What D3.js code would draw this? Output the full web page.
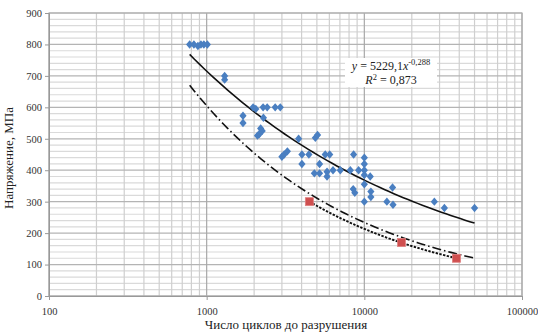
<!DOCTYPE html>
<html>
<head>
<meta charset="utf-8">
<script src="https://cdn.jsdelivr.net/npm/d3@7/dist/d3.min.js"></script>
<style>
  html, body { margin: 0; padding: 0; background: #fff; }
  svg { display: block; }
</style>
</head>
<body>
<svg id="chart" width="538" height="334"></svg>
<script>
// Fatigue test results: stress amplitude vs. cycles to failure
const cycles = [780, 830, 880, 920, 960, 1010,
  1300, 1300, 1700, 1700, 1970, 2050, 2280, 2420, 2720, 2930, 2290,
  2200, 2250, 2100, 2160, 3830, 4890, 5050, 3000, 3100, 3250,
  4020, 4450, 4020, 5200, 5650, 6030, 4820, 5200, 5800, 5800, 6330, 7040,
  8550, 8150, 9200, 10000, 10000, 10000, 10000, 10900,
  8500, 8700, 10000, 10000, 11000, 11000, 15100, 13900, 15200,
  27800, 32200, 50000];
const stress = [800, 800, 795, 800, 800, 800,
  700, 688, 573, 550, 600, 595, 600, 600, 600, 600, 567,
  533, 525, 510, 515, 500, 503, 512, 443, 450, 460,
  450, 450, 420, 420, 450, 450, 390, 390, 395, 380, 400, 400,
  450, 400, 400, 440, 420, 400, 385, 380,
  340, 328, 355, 300, 332, 315, 345, 300, 290,
  300, 280, 280];

// Reference specimens
const refCycles = [4480, 17200, 38400];
const refStress = [300, 170, 120];

// Power trend y = a * x^b for the main series (as labelled)
const trendA = 5229.1, trendB = -0.288;
const trendRange = [780, 50000];
// Lower design curve
const lowerA = 10490, lowerB = -0.413;
const lowerRange = [780, 50000];

const yTicks = [0, 100, 200, 300, 400, 500, 600, 700, 800, 900];
const xTicks = [100, 1000, 10000, 100000];
const xTitle = "Число циклов до разрушения";
const yTitle = "Напряжение, МПа";

const SERIF = "'Liberation Serif', 'DejaVu Serif', 'Times New Roman', serif";
const W = 538, H = 334;
const m = { left: 49, right: 16, top: 13, bottom: 38 };
const svg = d3.select("#chart");

const x = d3.scaleLog().domain([100, 100000]).range([m.left, W - m.right]);
const y = d3.scaleLinear().domain([0, 900]).range([H - m.bottom, m.top]);

const g = svg.append("g");

// minor horizontal grid every 20
const minorY = d3.range(0, 901, 20).filter(v => v % 100 !== 0);
g.selectAll(".hmin").data(minorY).join("line")
  .attr("x1", m.left).attr("x2", W - m.right)
  .attr("y1", d => y(d)).attr("y2", d => y(d))
  .attr("stroke", "#dadada").attr("stroke-width", 1.2);

// minor vertical grid 2..9 per decade
const minorX = [];
[100, 1000, 10000].forEach(d => { for (let k = 2; k <= 9; k++) minorX.push(d * k); });
g.selectAll(".vmin").data(minorX).join("line")
  .attr("y1", m.top).attr("y2", H - m.bottom)
  .attr("x1", d => x(d)).attr("x2", d => x(d))
  .attr("stroke", "#cfcfcf").attr("stroke-width", 1.2);

// major grid
g.selectAll(".hmaj").data(yTicks).join("line")
  .attr("x1", m.left).attr("x2", W - m.right)
  .attr("y1", d => y(d)).attr("y2", d => y(d))
  .attr("stroke", "#b4b4b4").attr("stroke-width", 1.2);
g.selectAll(".vmaj").data(xTicks).join("line")
  .attr("y1", m.top).attr("y2", H - m.bottom)
  .attr("x1", d => x(d)).attr("x2", d => x(d))
  .attr("stroke", "#a8a8a8").attr("stroke-width", 1.2);

// plot frame
svg.append("rect").attr("x", m.left).attr("y", m.top)
  .attr("width", W - m.left - m.right).attr("height", H - m.top - m.bottom)
  .attr("fill", "none").attr("stroke", "#b0b0b0").attr("stroke-width", 1.2);

// axes
const yAxis = d3.axisLeft(y).tickValues(yTicks).tickSize(4).tickFormat(d3.format("d"));
const ya = svg.append("g").attr("transform", `translate(${m.left},0)`).call(yAxis);
const xAxis = d3.axisBottom(x).tickValues(xTicks).tickSize(4).tickFormat(d3.format("d"));
const xa = svg.append("g").attr("transform", `translate(0,${H - m.bottom})`).call(xAxis);
[ya, xa].forEach(a => {
  a.attr("font-family", SERIF);
  a.select(".domain").attr("stroke", "#999");
  a.selectAll(".tick line").attr("stroke", "#999");
  a.selectAll("text").attr("font-size", 10.5).attr("fill", "#333")
    .style("font-family", SERIF);
});
ya.selectAll("text").attr("x", -7);
xa.selectAll("text").attr("dy", "1.1em");

// curves
function powerCurve(a, b, range) {
  const lx0 = Math.log10(range[0]), lx1 = Math.log10(range[1]);
  return d3.range(0, 61).map(i => {
    const xv = Math.pow(10, lx0 + (lx1 - lx0) * i / 60);
    return [xv, a * Math.pow(xv, b)];
  });
}
const line = d3.line().x(d => x(d[0])).y(d => y(d[1]));

// least-squares power fit of the reference specimens
const lx = refCycles.map(Math.log), ly = refStress.map(Math.log);
const mx = d3.mean(lx), my = d3.mean(ly);
const refB = d3.sum(lx, (v, i) => (v - mx) * (ly[i] - my)) / d3.sum(lx, v => (v - mx) ** 2);
const refA = Math.exp(my - refB * mx);

svg.append("path").datum(powerCurve(lowerA, lowerB, lowerRange))
  .attr("d", line).attr("fill", "none").attr("stroke", "#111")
  .attr("stroke-width", 1.6).attr("stroke-dasharray", "9,3,1.5,3");
svg.append("path").datum(powerCurve(refA, refB, d3.extent(refCycles)))
  .attr("d", line).attr("fill", "none").attr("stroke", "#111")
  .attr("stroke-width", 1.9).attr("stroke-dasharray", "2.4,1.4");
svg.append("path").datum(powerCurve(trendA, trendB, trendRange))
  .attr("d", line).attr("fill", "none").attr("stroke", "#111")
  .attr("stroke-width", 1.6);

// blue diamonds
const diamond = "M0,-4.2L3.6,0L0,4.2L-3.6,0Z";
svg.selectAll(".pt").data(cycles.map((c, i) => [c, stress[i]])).join("path")
  .attr("d", diamond)
  .attr("transform", d => `translate(${x(d[0])},${y(d[1])})`)
  .attr("fill", "#4a7fc1");

// red squares
svg.selectAll(".ref").data(refCycles.map((c, i) => [c, refStress[i]])).join("rect")
  .attr("x", d => x(d[0]) - 4).attr("y", d => y(d[1]) - 4)
  .attr("width", 8).attr("height", 8)
  .attr("fill", "#cf4f4f").attr("stroke", "#e08080").attr("stroke-width", 0.8);

// equation label
const lab = svg.append("g").style("font-family", SERIF);
lab.append("rect").attr("x", 345).attr("y", 58).attr("width", 92).attr("height", 29).attr("fill", "#fff");
const t1 = lab.append("text").attr("x", 391).attr("y", 70).attr("text-anchor", "middle")
  .attr("font-size", 12).attr("fill", "#222");
t1.append("tspan").attr("font-style", "italic").text("y");
t1.append("tspan").text(" = 5229,1");
t1.append("tspan").attr("font-style", "italic").text("x");
t1.append("tspan").attr("font-size", 8.5).attr("dy", -5).text("-0,288");
const t2 = lab.append("text").attr("x", 391).attr("y", 84).attr("text-anchor", "middle")
  .attr("font-size", 12).attr("fill", "#222");
t2.append("tspan").attr("font-style", "italic").text("R");
t2.append("tspan").attr("font-size", 8.5).attr("dy", -4).text("2");
t2.append("tspan").attr("dy", 4).text(" = 0,873");

// titles
svg.append("text").attr("x", 286).attr("y", 329).attr("text-anchor", "middle")
  .style("font-family", SERIF).attr("fill", "#222")
  .attr("font-size", 13).text(xTitle);
svg.append("text").attr("transform", "translate(13,158) rotate(-90)")
  .style("font-family", SERIF).attr("fill", "#222")
  .attr("text-anchor", "middle").attr("font-size", 13).text(yTitle);
</script>
</body>
</html>
